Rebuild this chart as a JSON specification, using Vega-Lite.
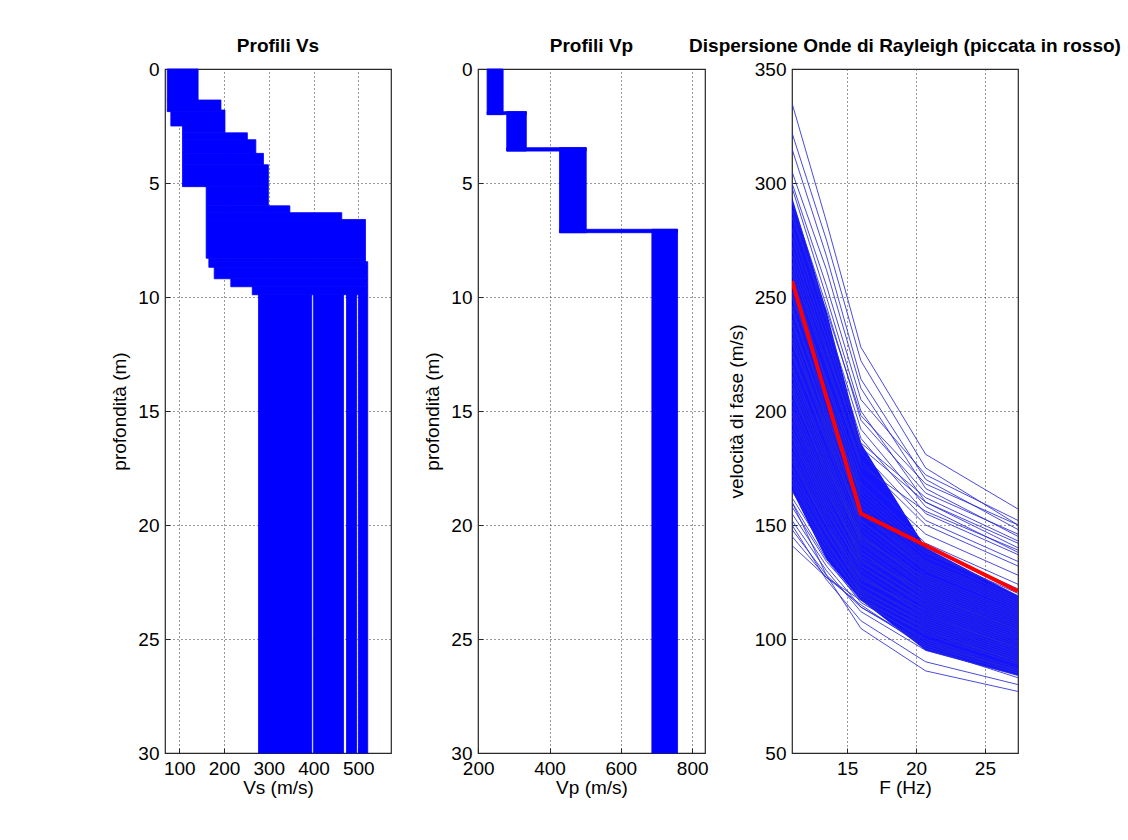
{
  "$schema": "https://vega.github.io/schema/vega-lite/v6.json",
  "background": "white",
  "padding": {"left": 110, "top": 36, "right": 0, "bottom": 0},
  "bounds": "flush",
  "spacing": 87,
  "config": {
    "font": "Liberation Sans",
    "view": {"stroke": "#262626", "strokeWidth": 1.2},
    "axis": {"labelFont": "Liberation Sans", "labelFontSize": 19, "labelColor": "#000", "labelFlush": false, "titleFont": "Liberation Sans", "titleFontSize": 19, "titleFontWeight": "normal", "titleColor": "#000", "domain": false, "ticks": true, "tickSize": -5, "tickColor": "#262626", "tickWidth": 1, "grid": true, "gridColor": "#333", "gridDash": [1, 3], "gridWidth": 1, "labelPadding": 11},
    "axisY": {"titlePadding": 8},
    "axisX": {"titlePadding": 0},
    "title": {"font": "Liberation Sans", "fontSize": 19, "fontWeight": "bold", "color": "#000", "offset": 0}
  },
  "hconcat": [
    {
      "width": 226, "height": 684,
      "title": "Profili Vs",
      "data": {"values": [
        {"d0": 0, "d1": 1.36, "v0": 73, "v1": 142},
        {"d0": 1.36, "d1": 1.8, "v0": 73, "v1": 193},
        {"d0": 1.8, "d1": 1.87, "v0": 73, "v1": 202},
        {"d0": 1.87, "d1": 2.5, "v0": 81, "v1": 202},
        {"d0": 2.5, "d1": 2.8, "v0": 107, "v1": 202},
        {"d0": 2.8, "d1": 3.1, "v0": 107, "v1": 252},
        {"d0": 3.1, "d1": 3.7, "v0": 107, "v1": 271},
        {"d0": 3.7, "d1": 4.2, "v0": 107, "v1": 288},
        {"d0": 4.2, "d1": 5.16, "v0": 107, "v1": 299},
        {"d0": 5.16, "d1": 6.0, "v0": 160, "v1": 299},
        {"d0": 6.0, "d1": 6.3, "v0": 160, "v1": 347},
        {"d0": 6.3, "d1": 6.6, "v0": 160, "v1": 463},
        {"d0": 6.6, "d1": 8.3, "v0": 160, "v1": 516},
        {"d0": 8.3, "d1": 8.45, "v0": 166, "v1": 516},
        {"d0": 8.45, "d1": 8.7, "v0": 166, "v1": 521},
        {"d0": 8.7, "d1": 9.2, "v0": 178, "v1": 521},
        {"d0": 9.2, "d1": 9.55, "v0": 215, "v1": 521},
        {"d0": 9.55, "d1": 9.9, "v0": 263, "v1": 521},
        {"d0": 9.9, "d1": 30, "v0": 277, "v1": 396},
        {"d0": 9.9, "d1": 30, "v0": 400, "v1": 467},
        {"d0": 9.9, "d1": 30, "v0": 473.5, "v1": 496},
        {"d0": 9.9, "d1": 30, "v0": 500, "v1": 521}
      ]},
      "mark": {"type": "rect", "color": "#0000ff", "stroke": "#0000ff", "strokeWidth": 0.8},
      "encoding": {
        "x": {"field": "v0", "type": "quantitative", "scale": {"domain": [68, 573], "nice": false, "zero": false}, "axis": {"values": [100, 200, 300, 400, 500], "title": "Vs (m/s)"}},
        "x2": {"field": "v1"},
        "y": {"field": "d0", "type": "quantitative", "scale": {"domain": [0, 30], "reverse": true, "nice": false, "zero": false}, "axis": {"values": [0, 5, 10, 15, 20, 25, 30], "title": "profondità (m)"}},
        "y2": {"field": "d1"}
      }
    },
    {
      "width": 227, "height": 684,
      "title": "Profili Vp",
      "data": {"values": [
        {"d0": 0, "d1": 2.0, "v0": 225, "v1": 270},
        {"d0": 1.87, "d1": 2.0, "v0": 225, "v1": 335},
        {"d0": 1.87, "d1": 3.6, "v0": 280, "v1": 335},
        {"d0": 3.45, "d1": 3.6, "v0": 280, "v1": 503},
        {"d0": 3.45, "d1": 7.18, "v0": 428, "v1": 503},
        {"d0": 7.03, "d1": 7.18, "v0": 428, "v1": 759},
        {"d0": 7.03, "d1": 30, "v0": 687, "v1": 759}
      ]},
      "mark": {"type": "rect", "color": "#0000ff", "stroke": "#0000ff", "strokeWidth": 0.8},
      "encoding": {
        "x": {"field": "v0", "type": "quantitative", "scale": {"domain": [199.5, 836], "nice": false, "zero": false}, "axis": {"values": [200, 400, 600, 800], "title": "Vp (m/s)"}},
        "x2": {"field": "v1"},
        "y": {"field": "d0", "type": "quantitative", "scale": {"domain": [0, 30], "reverse": true, "nice": false, "zero": false}, "axis": {"values": [0, 5, 10, 15, 20, 25, 30], "title": "profondità (m)"}},
        "y2": {"field": "d1"}
      }
    },
    {
      "width": 226, "height": 684,
      "title": "Dispersione Onde di Rayleigh (piccata in rosso)",
      "layer": [
        {
          "data": {"values": [
            {"f": 11, "lo": 165, "hi": 294},
            {"f": 13.5, "lo": 135, "hi": 244},
            {"f": 16, "lo": 117, "hi": 186},
            {"f": 20.7, "lo": 95, "hi": 140},
            {"f": 27.4, "lo": 84, "hi": 119}
          ]},
          "mark": {"type": "area", "color": "#0000ff", "opacity": 0.92, "clip": true},
          "encoding": {
            "x": {"field": "f", "type": "quantitative"},
            "y": {"field": "lo", "type": "quantitative"},
            "y2": {"field": "hi"}
          }
        },
        {
          "data": {"values": [
            {"k":1,"f":11,"v":335},{"k":1,"f":13.5,"v":283},{"k":1,"f":16,"v":228},{"k":1,"f":20.7,"v":181},{"k":1,"f":27.4,"v":157},
            {"k":2,"f":11,"v":322},{"k":2,"f":13.5,"v":275},{"k":2,"f":16,"v":222},{"k":2,"f":20.7,"v":175},{"k":2,"f":27.4,"v":150},
            {"k":3,"f":11,"v":315},{"k":3,"f":13.5,"v":268},{"k":3,"f":16,"v":214},{"k":3,"f":20.7,"v":170},{"k":3,"f":27.4,"v":148},
            {"k":4,"f":11,"v":305},{"k":4,"f":13.5,"v":262},{"k":4,"f":16,"v":210},{"k":4,"f":20.7,"v":166},{"k":4,"f":27.4,"v":145},
            {"k":5,"f":11,"v":300},{"k":5,"f":13.5,"v":255},{"k":5,"f":16,"v":205},{"k":5,"f":20.7,"v":172},{"k":5,"f":27.4,"v":152},
            {"k":6,"f":11,"v":298},{"k":6,"f":13.5,"v":250},{"k":6,"f":16,"v":200},{"k":6,"f":20.7,"v":160},{"k":6,"f":27.4,"v":140},
            {"k":7,"f":11,"v":292},{"k":7,"f":13.5,"v":246},{"k":7,"f":16,"v":196},{"k":7,"f":20.7,"v":164},{"k":7,"f":27.4,"v":146},
            {"k":8,"f":11,"v":288},{"k":8,"f":13.5,"v":240},{"k":8,"f":16,"v":192},{"k":8,"f":20.7,"v":158},{"k":8,"f":27.4,"v":138},
            {"k":9,"f":11,"v":285},{"k":9,"f":13.5,"v":244},{"k":9,"f":16,"v":198},{"k":9,"f":20.7,"v":168},{"k":9,"f":27.4,"v":150},
            {"k":10,"f":11,"v":280},{"k":10,"f":13.5,"v":236},{"k":10,"f":16,"v":188},{"k":10,"f":20.7,"v":155},{"k":10,"f":27.4,"v":137},
            {"k":11,"f":11,"v":276},{"k":11,"f":13.5,"v":232},{"k":11,"f":16,"v":186},{"k":11,"f":20.7,"v":162},{"k":11,"f":27.4,"v":143},
            {"k":12,"f":11,"v":272},{"k":12,"f":13.5,"v":228},{"k":12,"f":16,"v":182},{"k":12,"f":20.7,"v":152},{"k":12,"f":27.4,"v":134},
            {"k":13,"f":11,"v":268},{"k":13,"f":13.5,"v":226},{"k":13,"f":16,"v":184},{"k":13,"f":20.7,"v":160},{"k":13,"f":27.4,"v":142},
            {"k":14,"f":11,"v":265},{"k":14,"f":13.5,"v":222},{"k":14,"f":16,"v":178},{"k":14,"f":20.7,"v":150},{"k":14,"f":27.4,"v":132},
            {"k":15,"f":11,"v":262},{"k":15,"f":13.5,"v":220},{"k":15,"f":16,"v":176},{"k":15,"f":20.7,"v":156},{"k":15,"f":27.4,"v":139},
            {"k":16,"f":11,"v":260},{"k":16,"f":13.5,"v":212},{"k":16,"f":16,"v":168},{"k":16,"f":20.7,"v":142},{"k":16,"f":27.4,"v":124},
            {"k":17,"f":11,"v":256},{"k":17,"f":13.5,"v":214},{"k":17,"f":16,"v":172},{"k":17,"f":20.7,"v":146},{"k":17,"f":27.4,"v":128},
            {"k":18,"f":11,"v":252},{"k":18,"f":13.5,"v":206},{"k":18,"f":16,"v":162},{"k":18,"f":20.7,"v":138},{"k":18,"f":27.4,"v":120},
            {"k":19,"f":11,"v":250},{"k":19,"f":13.5,"v":208},{"k":19,"f":16,"v":166},{"k":19,"f":20.7,"v":140},{"k":19,"f":27.4,"v":122},
            {"k":20,"f":11,"v":246},{"k":20,"f":13.5,"v":200},{"k":20,"f":16,"v":158},{"k":20,"f":20.7,"v":134},{"k":20,"f":27.4,"v":117},
            {"k":21,"f":11,"v":244},{"k":21,"f":13.5,"v":204},{"k":21,"f":16,"v":164},{"k":21,"f":20.7,"v":139},{"k":21,"f":27.4,"v":119},
            {"k":22,"f":11,"v":240},{"k":22,"f":13.5,"v":196},{"k":22,"f":16,"v":155},{"k":22,"f":20.7,"v":132},{"k":22,"f":27.4,"v":115},
            {"k":23,"f":11,"v":238},{"k":23,"f":13.5,"v":198},{"k":23,"f":16,"v":160},{"k":23,"f":20.7,"v":136},{"k":23,"f":27.4,"v":118},
            {"k":24,"f":11,"v":235},{"k":24,"f":13.5,"v":192},{"k":24,"f":16,"v":152},{"k":24,"f":20.7,"v":130},{"k":24,"f":27.4,"v":113},
            {"k":25,"f":11,"v":232},{"k":25,"f":13.5,"v":190},{"k":25,"f":16,"v":150},{"k":25,"f":20.7,"v":128},{"k":25,"f":27.4,"v":112},
            {"k":26,"f":11,"v":230},{"k":26,"f":13.5,"v":194},{"k":26,"f":16,"v":156},{"k":26,"f":20.7,"v":133},{"k":26,"f":27.4,"v":116},
            {"k":27,"f":11,"v":226},{"k":27,"f":13.5,"v":186},{"k":27,"f":16,"v":148},{"k":27,"f":20.7,"v":126},{"k":27,"f":27.4,"v":110},
            {"k":28,"f":11,"v":224},{"k":28,"f":13.5,"v":188},{"k":28,"f":16,"v":152},{"k":28,"f":20.7,"v":131},{"k":28,"f":27.4,"v":114},
            {"k":29,"f":11,"v":220},{"k":29,"f":13.5,"v":182},{"k":29,"f":16,"v":146},{"k":29,"f":20.7,"v":124},{"k":29,"f":27.4,"v":108},
            {"k":30,"f":11,"v":218},{"k":30,"f":13.5,"v":180},{"k":30,"f":16,"v":144},{"k":30,"f":20.7,"v":127},{"k":30,"f":27.4,"v":111},
            {"k":31,"f":11,"v":215},{"k":31,"f":13.5,"v":178},{"k":31,"f":16,"v":142},{"k":31,"f":20.7,"v":122},{"k":31,"f":27.4,"v":106},
            {"k":32,"f":11,"v":212},{"k":32,"f":13.5,"v":176},{"k":32,"f":16,"v":145},{"k":32,"f":20.7,"v":125},{"k":32,"f":27.4,"v":109},
            {"k":33,"f":11,"v":210},{"k":33,"f":13.5,"v":172},{"k":33,"f":16,"v":140},{"k":33,"f":20.7,"v":120},{"k":33,"f":27.4,"v":104},
            {"k":34,"f":11,"v":208},{"k":34,"f":13.5,"v":174},{"k":34,"f":16,"v":143},{"k":34,"f":20.7,"v":123},{"k":34,"f":27.4,"v":107},
            {"k":35,"f":11,"v":205},{"k":35,"f":13.5,"v":170},{"k":35,"f":16,"v":138},{"k":35,"f":20.7,"v":118},{"k":35,"f":27.4,"v":103},
            {"k":36,"f":11,"v":202},{"k":36,"f":13.5,"v":168},{"k":36,"f":16,"v":136},{"k":36,"f":20.7,"v":121},{"k":36,"f":27.4,"v":105},
            {"k":37,"f":11,"v":200},{"k":37,"f":13.5,"v":166},{"k":37,"f":16,"v":135},{"k":37,"f":20.7,"v":116},{"k":37,"f":27.4,"v":101},
            {"k":38,"f":11,"v":198},{"k":38,"f":13.5,"v":164},{"k":38,"f":16,"v":138},{"k":38,"f":20.7,"v":119},{"k":38,"f":27.4,"v":104},
            {"k":39,"f":11,"v":195},{"k":39,"f":13.5,"v":162},{"k":39,"f":16,"v":132},{"k":39,"f":20.7,"v":114},{"k":39,"f":27.4,"v":99},
            {"k":40,"f":11,"v":192},{"k":40,"f":13.5,"v":160},{"k":40,"f":16,"v":134},{"k":40,"f":20.7,"v":117},{"k":40,"f":27.4,"v":102},
            {"k":41,"f":11,"v":190},{"k":41,"f":13.5,"v":158},{"k":41,"f":16,"v":130},{"k":41,"f":20.7,"v":112},{"k":41,"f":27.4,"v":97},
            {"k":42,"f":11,"v":188},{"k":42,"f":13.5,"v":156},{"k":42,"f":16,"v":132},{"k":42,"f":20.7,"v":115},{"k":42,"f":27.4,"v":100},
            {"k":43,"f":11,"v":185},{"k":43,"f":13.5,"v":154},{"k":43,"f":16,"v":128},{"k":43,"f":20.7,"v":110},{"k":43,"f":27.4,"v":96},
            {"k":44,"f":11,"v":182},{"k":44,"f":13.5,"v":152},{"k":44,"f":16,"v":126},{"k":44,"f":20.7,"v":113},{"k":44,"f":27.4,"v":98},
            {"k":45,"f":11,"v":180},{"k":45,"f":13.5,"v":150},{"k":45,"f":16,"v":124},{"k":45,"f":20.7,"v":108},{"k":45,"f":27.4,"v":94},
            {"k":46,"f":11,"v":178},{"k":46,"f":13.5,"v":150},{"k":46,"f":16,"v":127},{"k":46,"f":20.7,"v":111},{"k":46,"f":27.4,"v":96},
            {"k":47,"f":11,"v":175},{"k":47,"f":13.5,"v":147},{"k":47,"f":16,"v":122},{"k":47,"f":20.7,"v":106},{"k":47,"f":27.4,"v":92},
            {"k":48,"f":11,"v":172},{"k":48,"f":13.5,"v":146},{"k":48,"f":16,"v":124},{"k":48,"f":20.7,"v":109},{"k":48,"f":27.4,"v":95},
            {"k":49,"f":11,"v":170},{"k":49,"f":13.5,"v":143},{"k":49,"f":16,"v":120},{"k":49,"f":20.7,"v":104},{"k":49,"f":27.4,"v":90},
            {"k":50,"f":11,"v":168},{"k":50,"f":13.5,"v":142},{"k":50,"f":16,"v":121},{"k":50,"f":20.7,"v":107},{"k":50,"f":27.4,"v":93},
            {"k":51,"f":11,"v":165},{"k":51,"f":13.5,"v":140},{"k":51,"f":16,"v":118},{"k":51,"f":20.7,"v":102},{"k":51,"f":27.4,"v":89},
            {"k":52,"f":11,"v":162},{"k":52,"f":13.5,"v":138},{"k":52,"f":16,"v":119},{"k":52,"f":20.7,"v":105},{"k":52,"f":27.4,"v":91},
            {"k":53,"f":11,"v":160},{"k":53,"f":13.5,"v":135},{"k":53,"f":16,"v":116},{"k":53,"f":20.7,"v":100},{"k":53,"f":27.4,"v":87},
            {"k":54,"f":11,"v":158},{"k":54,"f":13.5,"v":134},{"k":54,"f":16,"v":117},{"k":54,"f":20.7,"v":103},{"k":54,"f":27.4,"v":90},
            {"k":55,"f":11,"v":155},{"k":55,"f":13.5,"v":132},{"k":55,"f":16,"v":114},{"k":55,"f":20.7,"v":98},{"k":55,"f":27.4,"v":86},
            {"k":56,"f":11,"v":152},{"k":56,"f":13.5,"v":130},{"k":56,"f":16,"v":112},{"k":56,"f":20.7,"v":95},{"k":56,"f":27.4,"v":84},
            {"k":57,"f":11,"v":148},{"k":57,"f":13.5,"v":128},{"k":57,"f":16,"v":114},{"k":57,"f":20.7,"v":97},{"k":57,"f":27.4,"v":85},
            {"k":58,"f":11,"v":145},{"k":58,"f":13.5,"v":127},{"k":58,"f":16,"v":115},{"k":58,"f":20.7,"v":96},{"k":58,"f":27.4,"v":83},
            {"k":59,"f":11,"v":141},{"k":59,"f":13.5,"v":127},{"k":59,"f":16,"v":117},{"k":59,"f":20.7,"v":99},{"k":59,"f":27.4,"v":86},
            {"k":60,"f":11,"v":160},{"k":60,"f":13.5,"v":128},{"k":60,"f":16,"v":104.6},{"k":60,"f":20.7,"v":86},{"k":60,"f":27.4,"v":77},
            {"k":61,"f":11,"v":150},{"k":61,"f":13.5,"v":126},{"k":61,"f":16,"v":108},{"k":61,"f":20.7,"v":90},{"k":61,"f":27.4,"v":80}
          ]},
          "mark": {"type": "line", "color": "#2a2ad8", "strokeWidth": 1, "opacity": 0.85, "clip": true},
          "encoding": {
            "x": {"field": "f", "type": "quantitative", "scale": {"domain": [11, 27.4], "nice": false, "zero": false}, "axis": {"values": [15, 20, 25], "title": "F (Hz)"}},
            "y": {"field": "v", "type": "quantitative", "scale": {"domain": [50, 350], "nice": false, "zero": false}, "axis": {"values": [50, 100, 150, 200, 250, 300, 350], "title": "velocità di fase (m/s)"}},
            "detail": {"field": "k", "type": "nominal"}
          }
        },
        {
          "data": {"values": [
            {"f": 11, "v": 257},
            {"f": 16, "v": 155},
            {"f": 20.7, "v": 141},
            {"f": 27.4, "v": 121}
          ]},
          "mark": {"type": "line", "color": "#ff0000", "strokeWidth": 4, "clip": true},
          "encoding": {
            "x": {"field": "f", "type": "quantitative"},
            "y": {"field": "v", "type": "quantitative"}
          }
        }
      ]
    }
  ]
}
